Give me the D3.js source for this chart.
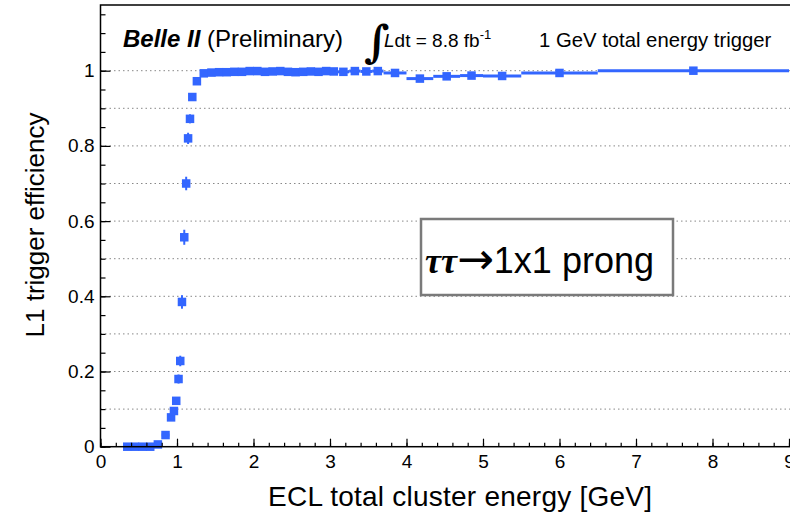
<!DOCTYPE html>
<html>
<head>
<meta charset="utf-8">
<title>L1 trigger efficiency</title>
<script src="https://cdn.jsdelivr.net/npm/d3@7"></script>
<style>
    body { margin: 0; background: #fff; }
    svg text { font-family: "Liberation Sans", Arial, Helvetica, sans-serif; fill: #000; }
    .axis path.domain { stroke: none; }
    .axis line { stroke: #000; stroke-width: 1.2; }
    .grid line { stroke: #888; stroke-width: 1; stroke-dasharray: 1.5,3; }
</style>
</head>
<body>
<script>
// bins (lower / upper edge in GeV), efficiency and its error
var binLo = [0.30, 0.40, 0.50, 0.60, 0.70, 0.80, 0.90, 0.945, 0.975, 1.005, 1.035, 1.05, 1.08, 1.11, 1.13, 1.16, 1.18, 1.22,
             1.30, 1.40, 1.50, 1.60, 1.70, 1.80, 1.90, 2.00, 2.10, 2.20, 2.30, 2.40, 2.50, 2.60, 2.70, 2.80, 2.90, 3.00,
             3.10, 3.25, 3.40, 3.55, 3.70, 4.00, 4.35, 4.70, 5.00, 5.50, 6.50];
var binHi = [0.40, 0.50, 0.60, 0.70, 0.80, 0.90, 0.945, 0.975, 1.005, 1.035, 1.05, 1.08, 1.11, 1.13, 1.16, 1.18, 1.22, 1.30,
             1.40, 1.50, 1.60, 1.70, 1.80, 1.90, 2.00, 2.10, 2.20, 2.30, 2.40, 2.50, 2.60, 2.70, 2.80, 2.90, 3.00, 3.10,
             3.25, 3.40, 3.55, 3.70, 4.00, 4.35, 4.70, 5.00, 5.50, 6.50, 9.00];
var efficiency = [0, 0, 0, 0, 0.006, 0.031, 0.078, 0.095, 0.122, 0.18, 0.228, 0.385, 0.557, 0.70, 0.82, 0.872, 0.93, 0.972,
                  0.993, 0.995, 0.996, 0.996, 0.997, 0.997, 0.999, 0.999, 0.997, 0.998, 0.999, 0.997, 0.996, 0.997, 0.998, 0.997, 0.999, 0.998,
                  0.997, 0.999, 0.998, 0.999, 0.994, 0.979, 0.985, 0.987, 0.986, 0.994, 1.0];
var effErr = [0, 0, 0, 0, 0.003, 0.005, 0.008, 0.008, 0.01, 0.012, 0.014, 0.018, 0.02, 0.018, 0.015, 0.012, 0.008, 0.005,
              0.003, 0.002, 0.002, 0.002, 0.002, 0.002, 0.001, 0.001, 0.002, 0.002, 0.001, 0.002, 0.002, 0.002, 0.002, 0.002, 0.001, 0.002,
              0.002, 0.001, 0.002, 0.001, 0.003, 0.005, 0.004, 0.004, 0.004, 0.003, 0.001];

var xMajor = [0, 1, 2, 3, 4, 5, 6, 7, 8, 9];
var yMajor = [0, 0.2, 0.4, 0.6, 0.8, 1];
var yGrid = [0.1, 0.2, 0.3, 0.4, 0.5, 0.6, 0.7, 0.8, 0.9, 1.0];

var width = 790, height = 515,
    xLeft = 100.5, xRight = 789,
    yBottom = 446.7, yTop = 70.7;

var color = "#3366ff";

var svg = d3.select("body").append("svg")
    .attr("width", width)
    .attr("height", height);

var x = d3.scaleLinear().domain([0, 9]).range([xLeft, xRight]);
var y = d3.scaleLinear().domain([0, 1]).range([yBottom, yTop]);

var yMax = y.invert(5);

// dotted grid
svg.append("g")
    .attr("class", "grid")
    .selectAll("line")
    .data(yGrid)
    .enter().append("line")
    .attr("x1", x(0)).attr("x2", x(10))
    .attr("y1", function (d) { return y(d); })
    .attr("y2", function (d) { return y(d); });

// data
var body = svg.append("g").attr("class", "body");
var pts = d3.range(binLo.length);

body.selectAll("line.xerr")
    .data(pts)
    .enter().append("line")
    .attr("class", "xerr")
    .attr("x1", function (i) { return x(binLo[i]); })
    .attr("x2", function (i) { return x(binHi[i]); })
    .attr("y1", function (i) { return y(efficiency[i]); })
    .attr("y2", function (i) { return y(efficiency[i]); })
    .attr("stroke", color)
    .attr("stroke-width", 3);

body.selectAll("line.yerr")
    .data(pts.filter(function (i) { return effErr[i] > 0; }))
    .enter().append("line")
    .attr("class", "yerr")
    .attr("x1", function (i) { return x((binLo[i] + binHi[i]) / 2); })
    .attr("x2", function (i) { return x((binLo[i] + binHi[i]) / 2); })
    .attr("y1", function (i) { return y(efficiency[i] - effErr[i]); })
    .attr("y2", function (i) { return y(efficiency[i] + effErr[i]); })
    .attr("stroke", color)
    .attr("stroke-width", 2);

var ms = 8.5;
body.selectAll("rect.marker")
    .data(pts)
    .enter().append("rect")
    .attr("class", "marker")
    .attr("x", function (i) { return x((binLo[i] + binHi[i]) / 2) - ms / 2; })
    .attr("y", function (i) { return y(efficiency[i]) - ms / 2; })
    .attr("width", ms)
    .attr("height", ms)
    .attr("fill", color);

// axes, ticks pointing inside
var xAxis = svg.append("g")
    .attr("class", "axis x")
    .attr("transform", "translate(0," + yBottom + ")")
    .call(d3.axisBottom(x).tickValues(xMajor).tickSize(-8).tickPadding(8).tickFormat(d3.format("d")));
svg.append("g")
    .attr("class", "axis x minor")
    .attr("transform", "translate(0," + yBottom + ")")
    .call(d3.axisBottom(x).tickValues(d3.range(0, 10.01, 0.2)).tickSize(-4).tickFormat(""));

var yAxis = svg.append("g")
    .attr("class", "axis y")
    .attr("transform", "translate(" + xLeft + ",0)")
    .call(d3.axisLeft(y).tickValues(yMajor).tickSize(-10).tickPadding(6)
        .tickFormat(function (d) { return d === 0 || d === 1 ? d3.format("d")(d) : d3.format(".1f")(d); }));
svg.append("g")
    .attr("class", "axis y minor")
    .attr("transform", "translate(" + xLeft + ",0)")
    .call(d3.axisLeft(y).tickValues(d3.range(0, 1.16, 0.05)).tickSize(-5).tickFormat(""));

xAxis.selectAll("text").style("font-size", "19px");
yAxis.selectAll("text").style("font-size", "19px");

// frame
svg.append("rect")
    .attr("x", xLeft).attr("y", y(yMax))
    .attr("width", x(10) - xLeft).attr("height", yBottom - y(yMax))
    .attr("fill", "none").attr("stroke", "#000").attr("stroke-width", 1.5);

// axis titles
svg.append("text")
    .attr("x", (268 + 652) / 2).attr("y", 506)
    .attr("text-anchor", "middle")
    .style("font-size", "28px")
    .attr("textLength", 384)
    .text("ECL total cluster energy [GeV]");

svg.append("text")
    .attr("transform", "translate(44," + (112 + 338) / 2 + ") rotate(-90)")
    .attr("text-anchor", "middle")
    .style("font-size", "26px")
    .text("L1 trigger efficiency");

// header texts
var head = svg.append("text").attr("x", 123).attr("y", 47).style("font-size", "24px");
head.append("tspan").style("font-weight", "bold").style("font-style", "italic").text("Belle II");
head.append("tspan").text(" (Preliminary)");

svg.append("text")
    .attr("x", 364).attr("y", 57)
    .style("font-family", "'DejaVu Serif', serif")
    .style("font-style", "italic")
    .style("font-weight", "bold")
    .style("font-size", "44px")
    .text("\u222B");

var lumi = svg.append("text").attr("x", 384).attr("y", 47).style("font-size", "19px");
lumi.append("tspan").style("font-style", "italic").text("L");
lumi.append("tspan").text("dt = 8.8 fb");
lumi.append("tspan").attr("dy", -8).style("font-size", "13px").text("-1");

svg.append("text")
    .attr("x", 539).attr("y", 47)
    .style("font-size", "20.3px")
    .text("1 GeV total energy trigger");

// channel label box
svg.append("rect")
    .attr("x", 421).attr("y", 219)
    .attr("width", 252).attr("height", 76)
    .attr("fill", "#fff")
    .attr("stroke", "#7a7a7a")
    .attr("stroke-width", 2.5);

var ch = svg.append("text").attr("x", 425).attr("y", 273).style("font-size", "36px");
ch.append("tspan")
    .style("font-family", "'Liberation Serif', 'Times New Roman', serif")
    .style("font-weight", "bold").style("font-style", "italic")
    .text("\u03C4\u03C4");
ch.append("tspan")
    .style("font-family", "'DejaVu Sans', sans-serif")
    .style("font-size", "44px")
    .attr("dy", 1)
    .text("\u2192");
ch.append("tspan").attr("dy", -1).text("1x1 prong");
</script>
</body>
</html>
